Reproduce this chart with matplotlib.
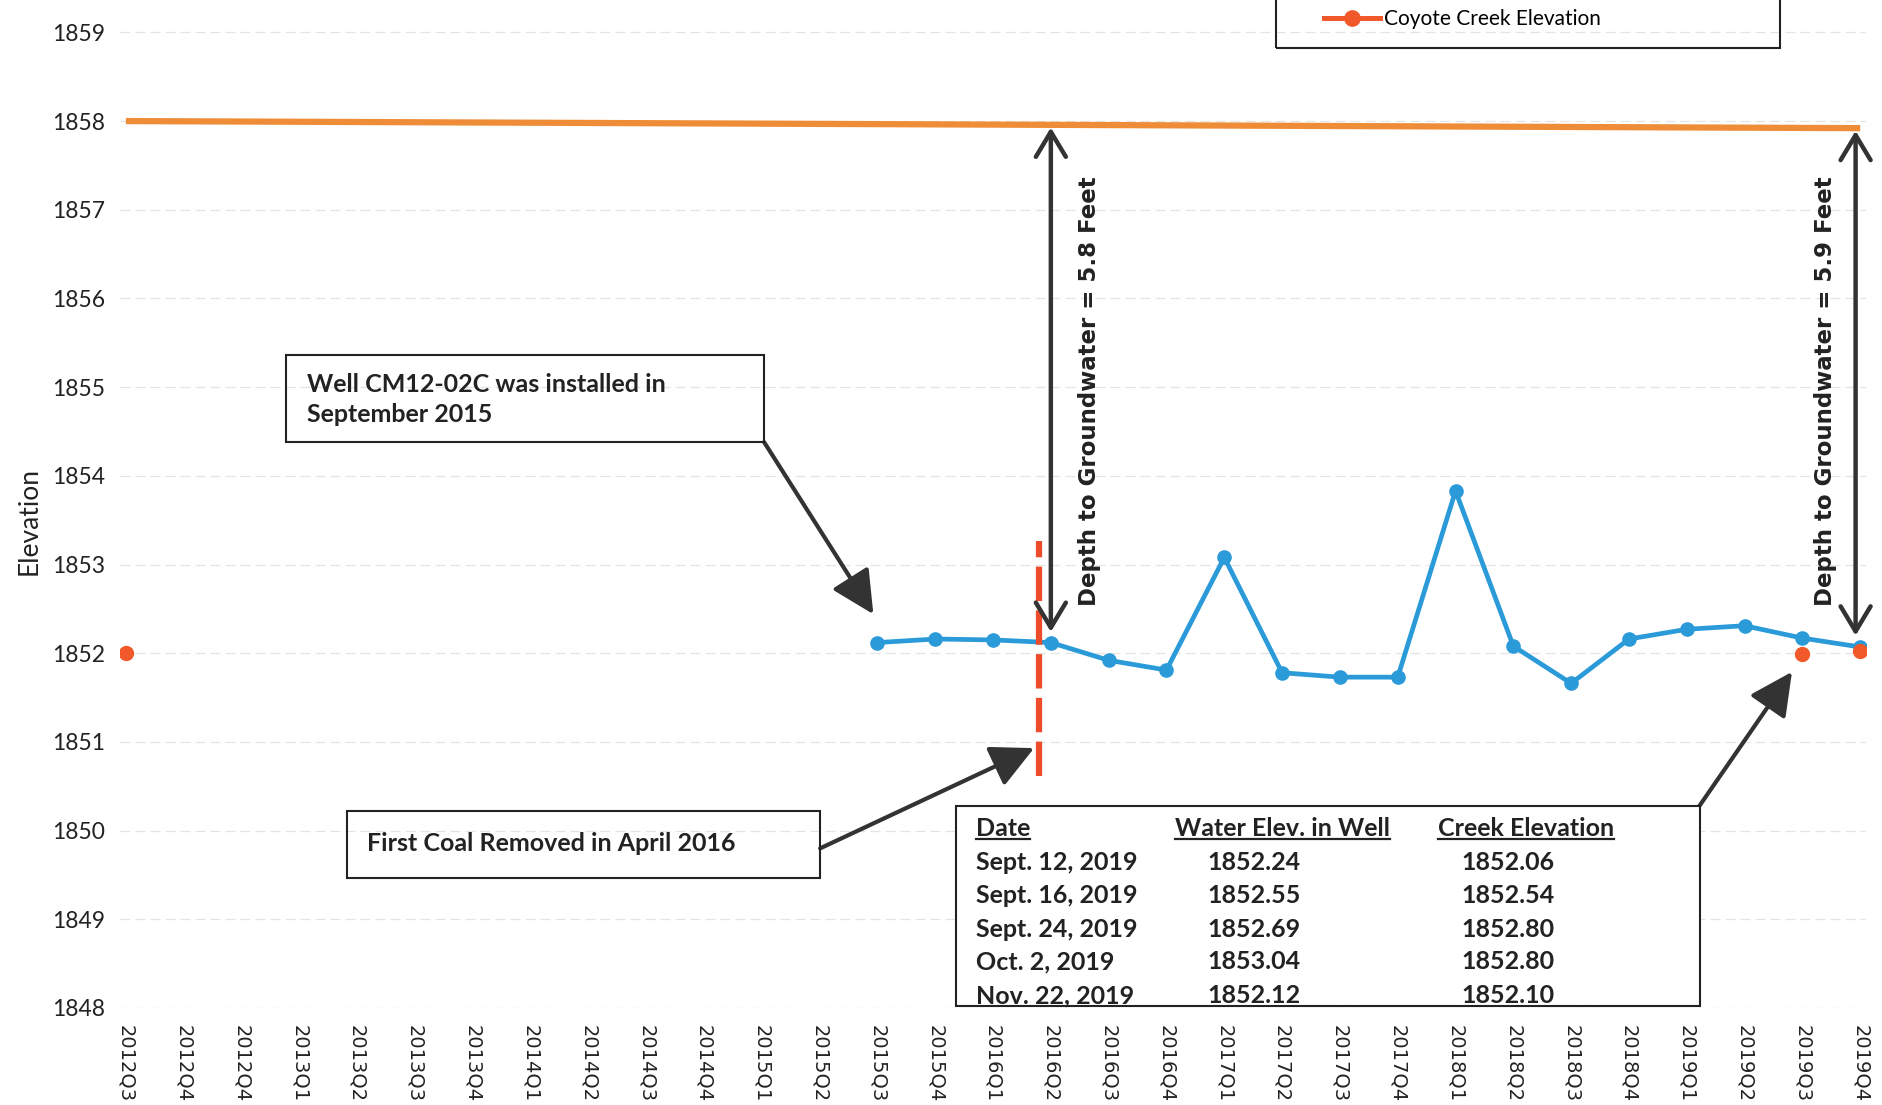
import numpy as np
import matplotlib.pyplot as plt
from matplotlib.lines import Line2D
from matplotlib.patches import Rectangle

plt.rcParams['font.family'] = ['Lato', 'DejaVu Sans']

quarters = ['2012Q3', '2012Q4', '2012Q4', '2013Q1', '2013Q2', '2013Q3', '2013Q4',
            '2014Q1', '2014Q2', '2014Q3', '2014Q4', '2015Q1', '2015Q2', '2015Q3',
            '2015Q4', '2016Q1', '2016Q2', '2016Q3', '2016Q4', '2017Q1', '2017Q2',
            '2017Q3', '2017Q4', '2018Q1', '2018Q2', '2018Q3', '2018Q4', '2019Q1',
            '2019Q2', '2019Q3', '2019Q4']
nan = np.nan
well_elev = [nan] * 13 + [1852.12, 1852.16, 1852.15, 1852.12, 1851.92, 1851.81,
                          1853.08, 1851.78, 1851.73, 1851.73, 1853.83, 1852.08,
                          1851.66, 1852.16, 1852.27, 1852.31, 1852.17, 1852.07]
creek_elev = [1852.00] + [nan] * 28 + [1851.99, 1852.03]
ground_idx = [0, 30]
ground_elev = [1858.00, 1857.92]

table_dates = ['Sept. 12, 2019', 'Sept. 16, 2019', 'Sept. 24, 2019', 'Oct. 2, 2019', 'Nov. 22, 2019']
table_well = ['1852.24', '1852.55', '1852.69', '1853.04', '1852.12']
table_creek = ['1852.06', '1852.54', '1852.80', '1852.80', '1852.10']

blue = '#2a9ad8'
creek_col = '#f2592a'
ground_col = '#ef8c37'
arrow_col = '#333333'
txt_col = '#222222'

x = np.arange(len(quarters))

fig = plt.figure(figsize=(18.82, 11.05), dpi=100)
ax = fig.add_axes([0.0638, 0.0878, 0.9277, 0.911])

ax.plot(ground_idx, ground_elev, color=ground_col, lw=4.5, solid_capstyle='butt', zorder=3)
ax.plot(x, well_elev, color=blue, lw=3.4, marker='o', ms=9.5, zorder=4)
ax.plot(x, creek_elev, color=creek_col, ls='none', marker='o', ms=10, zorder=5)

ax.set_xlim(-0.1, 30.1)
ax.set_ylim(1848, 1859.35)
ax.set_yticks(range(1848, 1860))
ax.set_xticks(x)
ax.set_xticklabels(quarters, rotation=-90, fontsize=14, family='DejaVu Sans', color=txt_col)
ax.tick_params(axis='y', length=0, pad=11, labelsize=16.5, colors=txt_col)
ax.tick_params(axis='x', length=0, pad=12)
ax.grid(axis='y', color='#e4e4e4', lw=0.9, ls=(0, (8, 4)))
for s in ax.spines.values():
    s.set_visible(False)
ax.set_ylabel('Elevation', fontsize=19, color=txt_col)
ax.yaxis.set_label_coords(-0.045, 0.484)

# annotation box: well installed
ax.add_patch(Rectangle((2.77, 1854.38), 11.04 - 2.77, 1855.36 - 1854.38, fill=False,
                       ec=txt_col, lw=1.5, zorder=6))
ax.text(3.13, 1854.86, 'Well CM12-02C was installed in\nSeptember 2015', fontsize=18,
        fontweight='bold', va='center', ha='left', linespacing=1.4, color=txt_col)
arrow_kw = dict(arrowstyle='-|>,head_length=0.6,head_width=0.3', mutation_scale=44,
                lw=3, color=arrow_col, shrinkA=0, shrinkB=0)
ax.annotate('', xy=(12.93, 1852.44), xytext=(11.04, 1854.38), arrowprops=arrow_kw)

# first coal removed
coal_idx = 15.8
ax.plot([coal_idx, coal_idx], [1850.62, 1853.27], color='#ee4b2b', lw=4.5,
        ls=(0, (5.5, 1.5)), zorder=4)
ax.add_patch(Rectangle((3.82, 1849.46), 12.01 - 3.82, 1850.22 - 1849.46, fill=False,
                       ec=txt_col, lw=1.5, zorder=6))
ax.text(4.17, 1849.86, 'First Coal Removed in April 2016', fontsize=18,
        fontweight='bold', va='center', ha='left', color=txt_col)
ax.annotate('', xy=(15.71, 1850.93), xytext=(12.01, 1849.80), arrowprops=arrow_kw)

# depth to groundwater arrows
dbl_kw = dict(arrowstyle='<->,head_length=0.5,head_width=0.3', mutation_scale=36,
              lw=3.2, color=arrow_col, shrinkA=0, shrinkB=0)
for idx, label, tx in [(16, 'Depth to Groundwater = 5.8 Feet', 16.67),
                       (29.92, 'Depth to Groundwater = 5.9 Feet', 29.4)]:
    top = np.interp(idx, ground_idx, ground_elev) - 0.03
    bottom = np.interp(idx, x[13:], well_elev[13:]) + 0.12
    ax.annotate('', xy=(idx, bottom), xytext=(idx, top), arrowprops=dbl_kw, zorder=7)
    ax.text(tx, 1854.95, label, rotation=90, fontsize=16.5, fontweight='bold',
            family='DejaVu Sans', va='center', ha='center', color=txt_col)

# table box
ax.add_patch(Rectangle((14.36, 1848.02), 27.22 - 14.36, 1850.28 - 1848.02,
                       fc='white', ec=txt_col, lw=1.5, zorder=6))
row_y = [1849.64, 1849.27, 1848.89, 1848.52, 1848.14]
head_y = 1850.02
headers = [('Date', 14.70), ('Water Elev. in Well', 18.15), ('Creek Elevation', 22.69)]
head_txt = []
for h, hx in headers:
    head_txt.append(ax.text(hx, head_y, h, fontsize=18, fontweight='bold', va='center',
                            ha='left', color=txt_col, zorder=7))
for i in range(len(table_dates)):
    ax.text(14.70, row_y[i], table_dates[i], fontsize=18, fontweight='bold',
            va='center', ha='left', color=txt_col, zorder=7)
    ax.text(18.70, row_y[i], table_well[i], fontsize=18, fontweight='bold',
            va='center', ha='left', color=txt_col, zorder=7)
    ax.text(23.11, row_y[i], table_creek[i], fontsize=18, fontweight='bold',
            va='center', ha='left', color=txt_col, zorder=7)
ax.annotate('', xy=(28.82, 1851.79), xytext=(27.22, 1850.28), arrowprops=arrow_kw)

# underline table headers
fig.canvas.draw()
inv = ax.transData.inverted()
for t in head_txt:
    bb = t.get_window_extent()
    (x0, y0), (x1, _) = inv.transform([[bb.x0, bb.y0], [bb.x1, bb.y1]])
    ax.plot([x0, x1], [y0 + 0.01, y0 + 0.01], color=txt_col, lw=1.6, zorder=7)

# legend (top is cut off by the figure edge)
fig.add_artist(Rectangle((0.678, 0.9566), 0.268, 0.1, transform=fig.transFigure,
                         fill=False, ec=txt_col, lw=1.5))
handle = Line2D([], [], color=creek_col, lw=3.6, marker='o', ms=11)
fig.legend([handle], ['Coyote Creek Elevation'], loc='center left',
           bbox_to_anchor=(0.7035, 0.9828), frameon=False, fontsize=15,
           handlelength=2.7, handletextpad=0.2, borderpad=0, borderaxespad=0)

fig.savefig('out.png', dpi=100)
